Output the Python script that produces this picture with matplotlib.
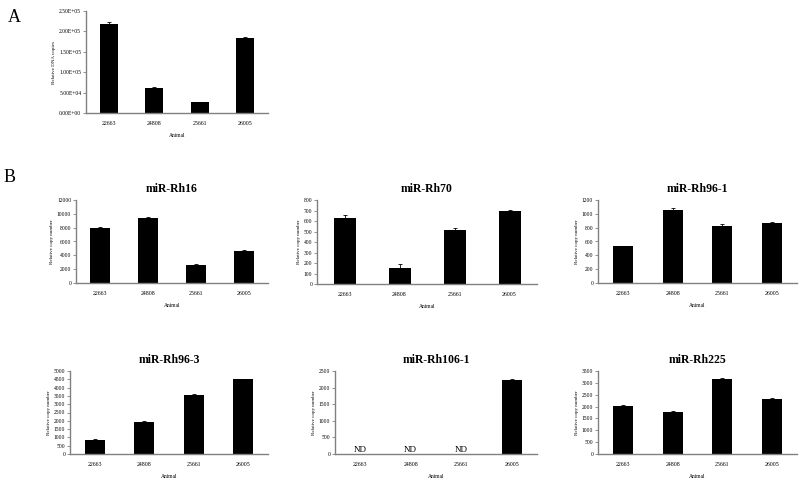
import matplotlib
matplotlib.use("Agg")
import matplotlib.pyplot as plt

plt.rcParams['font.family'] = ['Liberation Serif', 'DejaVu Serif']

animals = ['22663', '24808', '25661', '26005']

# panel A
dna_copies = [2.19e5, 6.1e4, 2.7e4, 1.85e5]
dna_err = [3000, 2000, 1000, 1500]

# panel B
mirna_names = ['miR-Rh16', 'miR-Rh70', 'miR-Rh96-1', 'miR-Rh96-3', 'miR-Rh106-1', 'miR-Rh225']
mirna_vals = [
    [8000, 9400, 2600, 4650],
    [625, 155, 514, 698],
    [530, 1060, 826, 874],
    [870, 1930, 3570, 4500],
    [0, 0, 0, 2230],
    [2040, 1780, 3160, 2330],
]
mirna_err = [
    [150, 200, 150, 120],
    [35, 40, 15, 10],
    [12, 20, 25, 8],
    [40, 30, 35, 40],
    [0, 0, 0, 20],
    [30, 35, 30, 35],
]
mirna_ymax = [12000, 800, 1200, 5000, 2500, 3500]
mirna_step = [2000, 100, 200, 500, 500, 500]
not_detected = [[], [], [], [], [0, 1, 2], []]

W, H = 800, 486
fig = plt.figure(figsize=(8, 4.86), dpi=100)


def make_ax(l, t, r, b):
    return fig.add_axes([l / W, 1 - b / H, (r - l) / W, (b - t) / H])


def style(ax, ymax, step, ylabel, fmt=None):
    ax.set_xlim(-0.5, 3.5)
    ax.set_ylim(0, ymax)
    ticks = [i * step for i in range(int(round(ymax / step)) + 1)]
    ax.set_yticks(ticks)
    if fmt:
        ax.set_yticklabels([fmt(v) for v in ticks])
    ax.set_xticks(range(4))
    ax.set_xticklabels(animals)
    for s in ['top', 'right']:
        ax.spines[s].set_visible(False)
    for s in ['left', 'bottom']:
        ax.spines[s].set_color('#808080')
        ax.spines[s].set_linewidth(1.0)
    ax.tick_params(axis='y', length=2, width=0.6, color='#808080', labelsize=4, pad=1.5)
    ax.tick_params(axis='x', length=0, labelsize=4.2, pad=6)
    ax.set_xlabel('Animal', fontsize=4, labelpad=5)
    ax.set_ylabel(ylabel, fontsize=3.6, labelpad=2)


def sci(v):
    if v == 0:
        return '0.00E+00'
    s = '%.2E' % v
    return s


axA = make_ax(86, 11, 268, 113)
axA.bar(range(4), dna_copies, width=0.4, color='black', yerr=dna_err,
        error_kw=dict(ecolor='black', elinewidth=0.6, capsize=1.5, capthick=0.6))
style(axA, 2.5e5, 5e4, 'Relative DNA copies', fmt=sci)
fig.text(8 / W, 1 - 17 / H, 'A', fontsize=13, va='center', ha='left')
fig.text(4 / W, 1 - 177 / H, 'B', fontsize=13, va='center', ha='left')

boxes = [
    (76, 200, 268, 283),
    (317, 200, 537, 284),
    (598, 200, 797, 283),
    (70, 371, 268, 454),
    (335, 371, 537, 454),
    (598, 371, 797, 454),
]

for i, name in enumerate(mirna_names):
    ax = make_ax(*boxes[i])
    ax.bar(range(4), mirna_vals[i], width=0.4, color='black', yerr=mirna_err[i],
           error_kw=dict(ecolor='black', elinewidth=0.6, capsize=1.5, capthick=0.6))
    style(ax, mirna_ymax[i], mirna_step[i], 'Relative copy number')
    ax.set_title(name, fontsize=8.5, fontweight='bold', pad=6)
    for j in not_detected[i]:
        ax.text(j, 0, 'ND', ha='center', va='bottom', fontsize=6.5)

fig.savefig('out.png', dpi=100)
